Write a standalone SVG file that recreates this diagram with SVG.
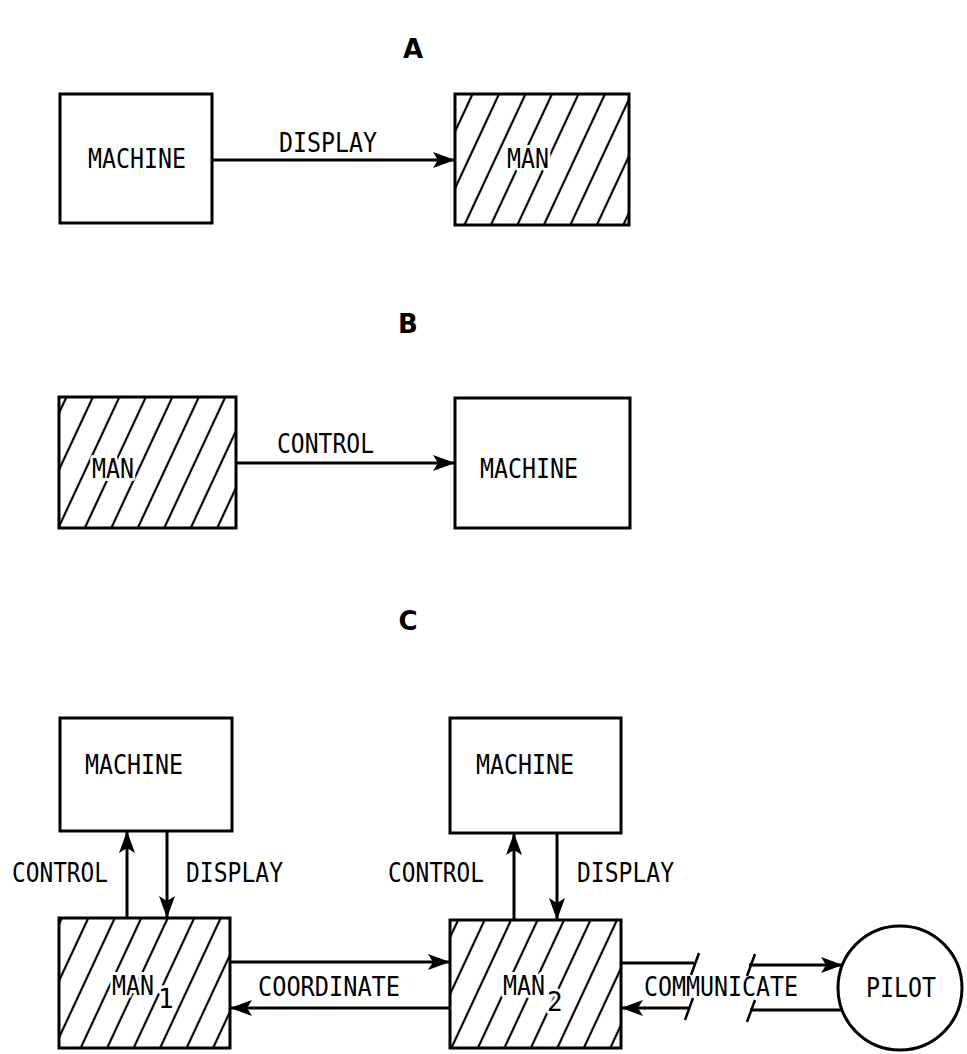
<svg xmlns="http://www.w3.org/2000/svg" width="967" height="1054" viewBox="0 0 967 1054">
<style>
.box{fill:#fff;stroke:#000;stroke-width:3}
.hbox{fill:url(#hatch);stroke:#000;stroke-width:3}
.t{font-family:"DejaVu Sans Mono","Liberation Mono",monospace;font-size:26px;fill:#000}
.halo{stroke:#fff;stroke-width:6px;paint-order:stroke;stroke-linejoin:round}
.sec{font-family:"DejaVu Sans","Liberation Sans",sans-serif;font-weight:bold;font-size:26px;fill:#000}
.ln{stroke:#000;stroke-width:3;fill:none}
.arr{stroke:#000;stroke-width:3;fill:none;marker-end:url(#ah)}
.sl{stroke:#000;stroke-width:2.5}
</style>
<defs>
<pattern id="hatch" patternUnits="userSpaceOnUse" width="24" height="24" patternTransform="rotate(25)">
<rect width="24" height="24" fill="#fff"/>
<line x1="12" y1="-2" x2="12" y2="26" stroke="#000" stroke-width="2.2"/>
</pattern>
<marker id="ah" markerWidth="24" markerHeight="18" refX="22" refY="9" orient="auto" markerUnits="userSpaceOnUse">
<path d="M0,1 L22,9 L0,17 L5,9 Z" fill="#000"/>
</marker>
</defs>
<rect width="967" height="1054" fill="#fff"/>

<g id="label-A"><text class="sec" x="413" y="58" text-anchor="middle">A</text></g>
<g id="label-B"><text class="sec" x="408" y="333" text-anchor="middle">B</text></g>
<g id="label-C"><text class="sec" x="408" y="630" text-anchor="middle">C</text></g>

<g id="a-machine"><rect class="box" x="60" y="94" width="152" height="129"/><text class="t" x="88" y="168" textLength="98" lengthAdjust="spacingAndGlyphs">MACHINE</text></g>
<g id="a-man"><rect class="hbox" x="455" y="94" width="174" height="131"/><text class="t halo" x="507" y="168" textLength="42" lengthAdjust="spacingAndGlyphs">MAN</text></g>

<g id="b-man"><rect class="hbox" x="59" y="397" width="177" height="131"/><text class="t halo" x="92" y="478" textLength="42" lengthAdjust="spacingAndGlyphs">MAN</text></g>
<g id="b-machine"><rect class="box" x="455" y="398" width="175" height="130"/><text class="t" x="480" y="478" textLength="98" lengthAdjust="spacingAndGlyphs">MACHINE</text></g>

<g id="c-machine1"><rect class="box" x="60" y="718" width="172" height="113"/><text class="t" x="85" y="774" textLength="98" lengthAdjust="spacingAndGlyphs">MACHINE</text></g>
<g id="c-machine2"><rect class="box" x="450" y="718" width="171" height="115"/><text class="t" x="476" y="774" textLength="98" lengthAdjust="spacingAndGlyphs">MACHINE</text></g>
<g id="c-man1"><rect class="hbox" x="59" y="918" width="171" height="130"/><text class="t halo" x="112" y="995" textLength="42" lengthAdjust="spacingAndGlyphs">MAN</text><text class="t halo" x="158" y="1008" font-size="19">1</text></g>
<g id="c-man2"><rect class="hbox" x="450" y="920" width="171" height="128"/><text class="t halo" x="503" y="995" textLength="42" lengthAdjust="spacingAndGlyphs">MAN</text><text class="t halo" x="547" y="1011" font-size="20">2</text></g>
<g id="c-pilot"><circle cx="900" cy="988" r="62" fill="#fff" stroke="#000" stroke-width="3"/><text class="t" x="866" y="997" textLength="70" lengthAdjust="spacingAndGlyphs">PILOT</text></g>

<g id="connectors">
<line class="arr" x1="212" y1="160" x2="455" y2="160"/>
<text class="t" x="279" y="152" textLength="98" lengthAdjust="spacingAndGlyphs">DISPLAY</text>

<line class="arr" x1="236" y1="463" x2="455" y2="463"/>
<text class="t" x="277" y="453" textLength="97" lengthAdjust="spacingAndGlyphs">CONTROL</text>

<line class="arr" x1="127" y1="918" x2="127" y2="831"/>
<line class="arr" x1="167" y1="831" x2="167" y2="918"/>
<text class="t" x="12" y="882" textLength="96" lengthAdjust="spacingAndGlyphs">CONTROL</text>
<text class="t" x="186" y="882" textLength="97" lengthAdjust="spacingAndGlyphs">DISPLAY</text>

<line class="arr" x1="514" y1="920" x2="514" y2="833"/>
<line class="arr" x1="557" y1="833" x2="557" y2="920"/>
<text class="t" x="388" y="882" textLength="96" lengthAdjust="spacingAndGlyphs">CONTROL</text>
<text class="t" x="577" y="882" textLength="97" lengthAdjust="spacingAndGlyphs">DISPLAY</text>

<line class="arr" x1="230" y1="962" x2="450" y2="962"/>
<line class="arr" x1="450" y1="1008" x2="230" y2="1008"/>
<text class="t" x="258" y="996" textLength="142" lengthAdjust="spacingAndGlyphs">COORDINATE</text>

<line class="ln" x1="621" y1="963" x2="694" y2="963"/>
<line class="sl" x1="699" y1="953" x2="691" y2="975"/>
<line class="arr" x1="689" y1="1008" x2="621" y2="1008"/>
<line class="sl" x1="693" y1="998" x2="685" y2="1020"/>
<line class="arr" x1="749" y1="965" x2="843" y2="965"/>
<line class="sl" x1="755" y1="954" x2="747" y2="976"/>
<line class="ln" x1="750" y1="1010" x2="841" y2="1010"/>
<line class="sl" x1="755" y1="1000" x2="747" y2="1022"/>
<text class="t" x="644" y="996" textLength="154" lengthAdjust="spacingAndGlyphs">COMMUNICATE</text>
</g>
</svg>
